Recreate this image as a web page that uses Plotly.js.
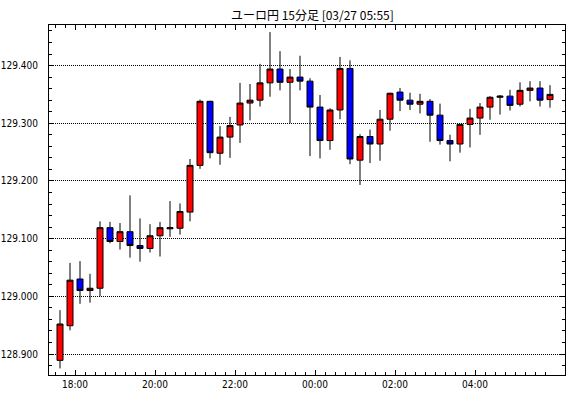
<!DOCTYPE html>
<html><head><meta charset="utf-8">
<script src="https://cdn.plot.ly/plotly-3.0.1.min.js"></script>
<style>html,body{margin:0;padding:0;background:#fff}#chart{width:570px;height:398px}</style>
</head><body><div id="chart"></div>
<script>
var times = [
 "2019-03-26 17:30","2019-03-26 17:45","2019-03-26 18:00","2019-03-26 18:15","2019-03-26 18:30","2019-03-26 18:45",
 "2019-03-26 19:00","2019-03-26 19:15","2019-03-26 19:30","2019-03-26 19:45","2019-03-26 20:00","2019-03-26 20:15",
 "2019-03-26 20:30","2019-03-26 20:45","2019-03-26 21:00","2019-03-26 21:15","2019-03-26 21:30","2019-03-26 21:45",
 "2019-03-26 22:00","2019-03-26 22:15","2019-03-26 22:30","2019-03-26 22:45","2019-03-26 23:00","2019-03-26 23:15",
 "2019-03-26 23:30","2019-03-26 23:45","2019-03-27 00:00","2019-03-27 00:15","2019-03-27 00:30","2019-03-27 00:45",
 "2019-03-27 01:00","2019-03-27 01:15","2019-03-27 01:30","2019-03-27 01:45","2019-03-27 02:00","2019-03-27 02:15",
 "2019-03-27 02:30","2019-03-27 02:45","2019-03-27 03:00","2019-03-27 03:15","2019-03-27 03:30","2019-03-27 03:45",
 "2019-03-27 04:00","2019-03-27 04:15","2019-03-27 04:30","2019-03-27 04:45","2019-03-27 05:00","2019-03-27 05:15",
 "2019-03-27 05:30","2019-03-27 05:45"];
var openV = [128.889,128.949,129.030,129.010,129.014,129.119,129.095,129.112,129.088,129.083,129.105,129.117,
 129.118,129.146,129.227,129.338,129.248,129.276,129.297,129.335,129.340,129.370,129.394,129.371,
 129.380,129.373,129.328,129.270,129.323,129.395,129.236,129.277,129.264,129.307,129.354,129.340,
 129.333,129.338,129.314,129.270,129.264,129.298,129.309,129.328,129.345,129.347,129.333,129.357,
 129.361,129.341];
var highV = [128.976,129.058,129.061,129.039,129.130,129.129,129.127,129.175,129.135,129.125,129.129,129.165,
 129.161,129.238,129.341,129.339,129.295,129.311,129.370,129.368,129.403,129.458,129.425,129.394,
 129.417,129.378,129.349,129.326,129.415,129.409,129.281,129.289,129.323,129.353,129.361,129.353,
 129.351,129.342,129.334,129.280,129.298,129.325,129.335,129.347,129.349,129.358,129.371,129.373,
 129.373,129.366];
var lowV = [128.875,128.941,128.987,128.989,129.000,129.092,129.081,129.067,129.060,129.076,129.069,129.103,
 129.107,129.130,129.221,129.239,129.228,129.240,129.266,129.305,129.329,129.346,129.357,129.300,
 129.357,129.243,129.239,129.254,129.307,129.229,129.193,129.231,129.235,129.287,129.321,129.323,
 129.317,129.268,129.263,129.234,129.249,129.258,129.280,129.306,129.315,129.322,129.329,129.338,
 129.329,129.327];
var closeV = [128.952,129.028,129.010,129.014,129.119,129.095,129.112,129.088,129.083,129.105,129.119,129.119,
 129.147,129.227,129.338,129.249,129.276,129.296,129.335,129.340,129.370,129.394,129.371,129.380,
 129.373,129.328,129.270,129.323,129.395,129.238,129.277,129.264,129.307,129.352,129.340,129.333,
 129.338,129.314,129.270,129.264,129.298,129.309,129.328,129.345,129.347,129.331,129.357,129.361,
 129.340,129.350];
var xTickVals = ["2019-03-26 18:00","2019-03-26 20:00","2019-03-26 22:00","2019-03-27 00:00","2019-03-27 02:00","2019-03-27 04:00"];
var xTickText = ["18:00","20:00","22:00","00:00","02:00","04:00"];
var titleText = "ユーロ円 15分足 [03/27 05:55]";

var trace = {
  type: "candlestick",
  x: times, open: openV, high: highV, low: lowV, close: closeV,
  xperiod: 900000, xperiodalignment: "middle",
  increasing: {fillcolor: "#ff0000", line: {color: "#000000", width: 1}},
  decreasing: {fillcolor: "#0000ff", line: {color: "#000000", width: 1}},
  whiskerwidth: 0,
  hoverinfo: "skip"
};
var tickFont = {family: "'Liberation Sans Narrow', 'DejaVu Sans Condensed', 'Liberation Sans', sans-serif", size: 10, color: "#000"};
var layout = {
  width: 570, height: 398,
  margin: {l: 49, r: 5, t: 25, b: 23},
  paper_bgcolor: "#fff", plot_bgcolor: "#fff",
  showlegend: false,
  boxgap: 0.2, boxgroupgap: 0.25,
  title: {text: titleText, x: 0.548, xanchor: "center", y: 0.96, yanchor: "middle",
          font: {family: "'Noto Sans CJK JP', sans-serif", size: 12, color: "#000"}},
  xaxis: {
    type: "date",
    range: ["2019-03-26 17:21", "2019-03-27 06:15"],
    rangeslider: {visible: false},
    tickmode: "array", tickvals: xTickVals, ticktext: xTickText,
    ticks: "inside", ticklen: 5, tickcolor: "#000",
    minor: {ticks: "inside", ticklen: 3, tickmode: "array", tickvals: times, tickcolor: "#000", showgrid: false},
    showline: true, linecolor: "#000", linewidth: 1, mirror: "allticks",
    showgrid: false, zeroline: false,
    tickfont: tickFont, fixedrange: true
  },
  yaxis: {
    range: [128.8636, 129.4703],
    tick0: 128.9, dtick: 0.1, tickformat: ".3f",
    ticks: "inside", ticklen: 5, tickcolor: "#000",
    minor: {ticks: "inside", ticklen: 3, dtick: 0.02, tick0: 128.9, tickcolor: "#000", showgrid: false},
    showline: true, linecolor: "#000", linewidth: 1, mirror: "allticks",
    showgrid: true, gridcolor: "#000", griddash: "1px,1px", gridwidth: 1,
    zeroline: false, ticklabelstandoff: 8,
    tickfont: tickFont, fixedrange: true
  }
};
Plotly.newPlot("chart", [trace], layout, {displayModeBar: false, staticPlot: true});
</script></body></html>
